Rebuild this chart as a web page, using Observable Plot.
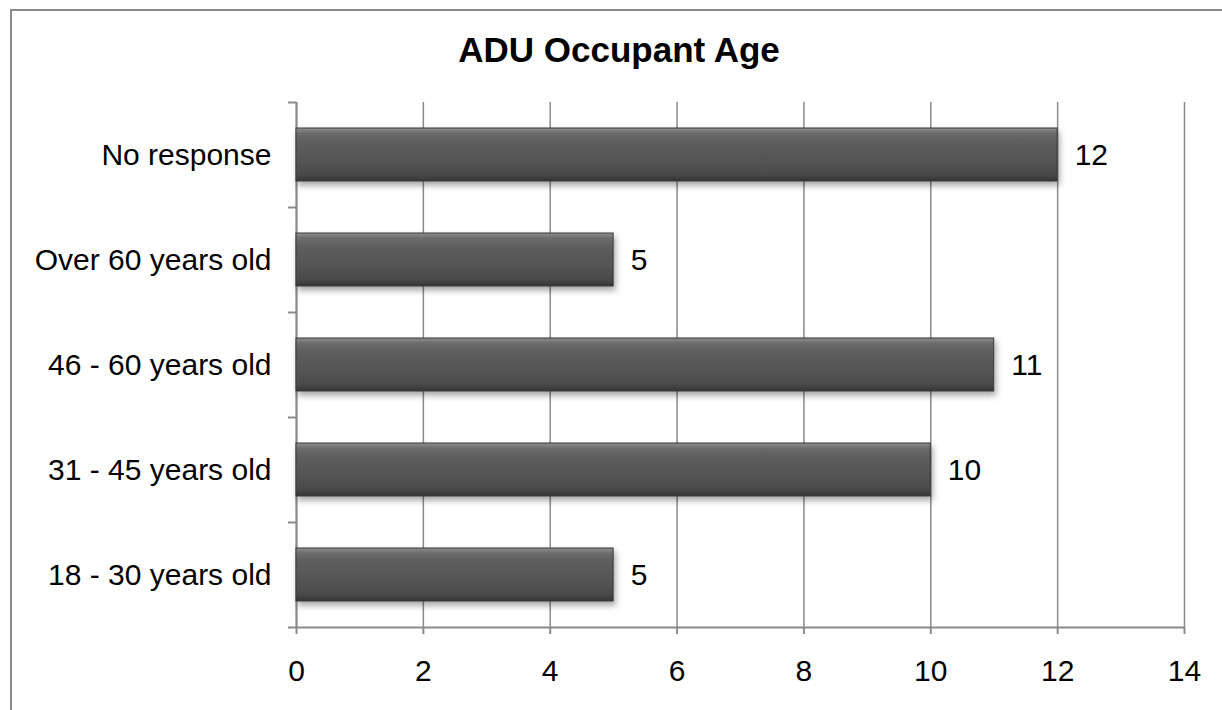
<!DOCTYPE html>
<html>
<head>
<meta charset="utf-8">
<script src="https://cdn.jsdelivr.net/npm/d3@7"></script>
<script src="https://cdn.jsdelivr.net/npm/@observablehq/plot@0.6"></script>
<style>
  html, body { margin: 0; padding: 0; background: #fff; overflow: hidden; }
  #wrap { position: relative; width: 1222px; height: 710px; }
  #border { position: absolute; left: 10px; top: 9px; width: 2000px; height: 2000px;
            border-left: 2px solid #8a8a8a; border-top: 2px solid #8a8a8a; box-sizing: border-box; }
  #title { position: relative; height: 90px; }
  #title span { position: absolute; left: 10px; width: 1218px; top: 32px; text-align: center;
                font-family: "Liberation Sans", Arial, sans-serif; font-weight: bold; font-size: 35px;
                line-height: 35px; color: #000; }
  #chart { position: relative; }
</style>
</head>
<body>
<div id="wrap">
  <div id="border"></div>
  <div id="title"><span>ADU Occupant Age</span></div>
  <div id="chart"></div>
</div>
<script>
const categories = ["No response", "Over 60 years old", "46 - 60 years old", "31 - 45 years old", "18 - 30 years old"];
const counts = [12, 5, 11, 10, 5];
const xTicks = [0, 2, 4, 6, 8, 10, 12, 14];

const data = categories.map((c, i) => ({category: c, count: counts[i]}));
const gray = "#8a8a8a";
const bottomCategory = categories[categories.length - 1];

const defs = () => {
  const d = d3.create("svg:defs");
  const g = d.append("linearGradient").attr("id", "barGrad").attr("x1", 0).attr("y1", 0).attr("x2", 0).attr("y2", 1);
  [["0%", "#8e8e8e"], ["10%", "#6c6c6c"], ["25%", "#5e5e5e"], ["60%", "#555555"], ["88%", "#4a4a4a"], ["100%", "#333333"]]
    .forEach(([o, c]) => g.append("stop").attr("offset", o).attr("stop-color", c));
  const f = d.append("filter").attr("id", "barShadow").attr("x", "-5%").attr("y", "-20%").attr("width", "115%").attr("height", "160%");
  f.append("feDropShadow").attr("dx", 2).attr("dy", 4).attr("stdDeviation", 3).attr("flood-color", "#000").attr("flood-opacity", 0.35);
  return d.node();
};

const chart = Plot.plot({
  width: 1222,
  height: 620,
  marginTop: 12,
  marginBottom: 83,
  marginLeft: 296,
  marginRight: 38,
  style: {fontFamily: "'Liberation Sans', Arial, sans-serif", fontSize: "30px", color: "#000", background: "transparent", overflow: "visible"},
  x: {domain: [0, 14], ticks: xTicks},
  y: {domain: categories, paddingInner: 0.5, paddingOuter: 0.25},
  marks: [
    defs,
    Plot.gridX(xTicks, {stroke: gray, strokeOpacity: 1, strokeWidth: 1.5}),
    Plot.ruleX([0], {stroke: gray, strokeWidth: 2}),
    Plot.ruleY([bottomCategory], {x1: 0, x2: 14, dy: 52.5, stroke: gray, strokeWidth: 2}),
    Plot.axisX(xTicks, {tickSize: 7, tickPadding: 25, stroke: gray, strokeWidth: 2, fontSize: 30, label: null}),
    Plot.axisY({tickSize: 0, tickPadding: 25, fontSize: 30, label: null}),
    Plot.axisY(categories, {tickSize: 8, tickFormat: () => "", dy: -52.5, stroke: gray, strokeWidth: 2, label: null}),
    Plot.axisY([bottomCategory], {tickSize: 8, tickFormat: () => "", dy: 52.5, stroke: gray, strokeWidth: 2, label: null}),
    Plot.barX(data, {x: "count", y: "category", fill: "url(#barGrad)", stroke: "#3a3a3a", strokeWidth: 1}),
    Plot.text(data, {x: "count", y: "category", text: d => String(d.count), dx: 17, textAnchor: "start", fontSize: 30, fill: "#000"})
  ]
});

d3.select(chart).selectAll('g[aria-label="bar"] rect').attr("filter", "url(#barShadow)");
document.getElementById("chart").appendChild(chart);
</script>
</body>
</html>
